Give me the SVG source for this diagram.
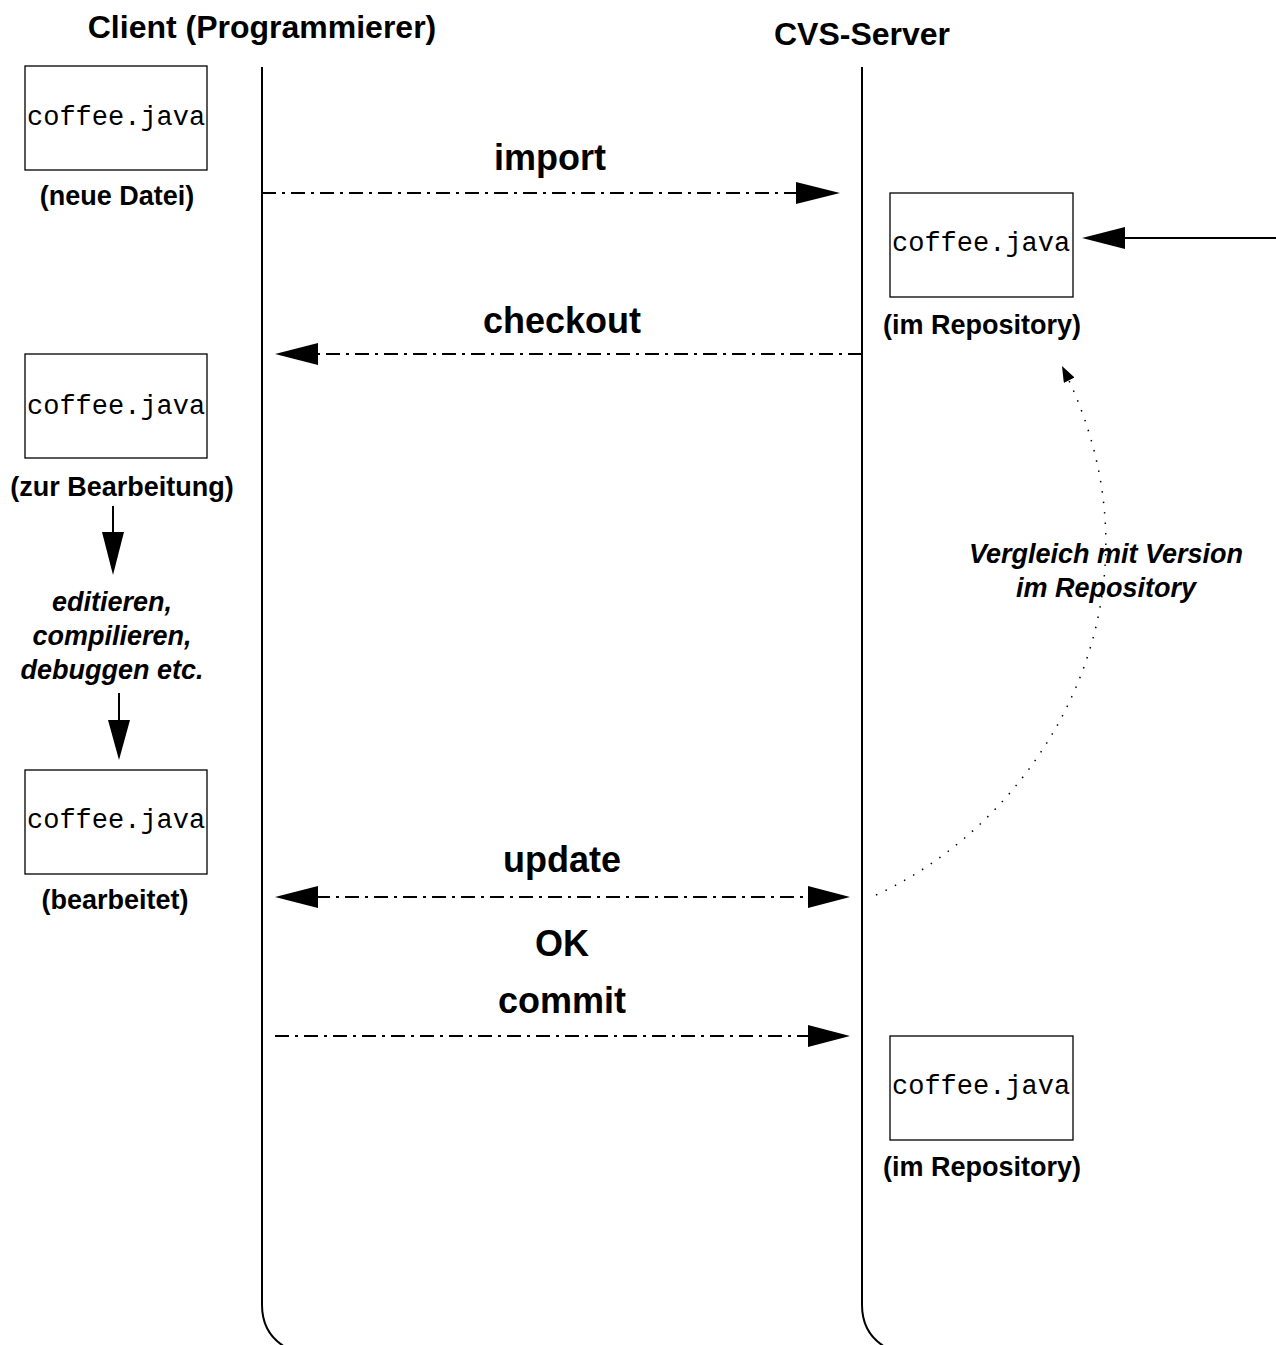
<svg xmlns="http://www.w3.org/2000/svg" width="1276" height="1345" viewBox="0 0 1276 1345">
<style>
.title{font-family:"Liberation Sans",Arial,sans-serif;font-weight:bold;font-size:32px;text-anchor:middle;fill:#000}
.lbl{font-family:"Liberation Sans",Arial,sans-serif;font-weight:bold;font-size:27px;text-anchor:middle;fill:#000}
.msg{font-family:"Liberation Sans",Arial,sans-serif;font-weight:bold;font-size:36px;text-anchor:middle;fill:#000}
.ital{font-family:"Liberation Sans",Arial,sans-serif;font-weight:bold;font-style:italic;font-size:27px;text-anchor:middle;fill:#000}
.mono{font-family:"Liberation Mono","Courier New",monospace;font-size:27px;fill:#000}
.box{fill:#fff;stroke:#000;stroke-width:1.3}
.life{fill:none;stroke:#000;stroke-width:2}
.dd{fill:none;stroke:#000;stroke-width:2;stroke-dasharray:14 6 3 6}
.solid{fill:none;stroke:#000;stroke-width:2}
.dot{fill:none;stroke:#000;stroke-width:1.5;stroke-dasharray:1.5 9}
.head{fill:#000}
</style>
<defs>
<marker id="dothead" viewBox="0 0 16 12" refX="16" refY="6" markerWidth="16" markerHeight="12" markerUnits="userSpaceOnUse" orient="auto">
<path d="M0,0 L16,6 L0,12 Z" fill="#000"/>
</marker>
</defs>

<text class="title" x="262" y="38">Client (Programmierer)</text>
<text class="title" x="862" y="45">CVS-Server</text>

<g id="lifelines">
<path class="life" d="M262,67 V1305 Q262,1333 285,1347"/>
<path class="life" d="M862,67 V1305 Q862,1333 885,1347"/>
</g>

<g id="node-new">
<rect class="box" x="25" y="66" width="182" height="104"/>
<text class="mono" x="27" y="125">coffee.java</text>
<text class="lbl" x="117" y="205">(neue Datei)</text>
</g>

<g id="node-repo1">
<rect class="box" x="890" y="193" width="183" height="104"/>
<text class="mono" x="892" y="251">coffee.java</text>
<text class="lbl" x="982" y="334">(im Repository)</text>
</g>

<g id="node-work">
<rect class="box" x="25" y="354" width="182" height="104"/>
<text class="mono" x="27" y="414">coffee.java</text>
<text class="lbl" x="122" y="496">(zur Bearbeitung)</text>
</g>

<g id="node-edited">
<rect class="box" x="25" y="770" width="182" height="104"/>
<text class="mono" x="27" y="828">coffee.java</text>
<text class="lbl" x="115" y="909">(bearbeitet)</text>
</g>

<g id="node-repo2">
<rect class="box" x="890" y="1036" width="183" height="104"/>
<text class="mono" x="892" y="1094">coffee.java</text>
<text class="lbl" x="982" y="1176">(im Repository)</text>
</g>

<g id="node-edit-note">
<text class="ital" x="112" y="611">editieren,</text>
<text class="ital" x="112" y="645">compilieren,</text>
<text class="ital" x="112" y="679">debuggen etc.</text>
</g>

<g id="node-compare-note">
<text class="ital" x="1106" y="563">Vergleich mit Version</text>
<text class="ital" x="1106" y="597">im Repository</text>
</g>

<g id="connectors">
<!-- import -->
<text class="msg" x="550" y="170">import</text>
<path class="dd" d="M262,193 H798"/>
<path class="head" d="M796,182 L840,193 L796,204 Z"/>
<!-- checkout -->
<text class="msg" x="562" y="333">checkout</text>
<path class="dd" d="M862,354 H316"/>
<path class="head" d="M318,343 L275,354 L318,365 Z"/>
<!-- update -->
<text class="msg" x="562" y="872">update</text>
<path class="dd" d="M316,897 H810"/>
<path class="head" d="M318,886 L275,897 L318,908 Z"/>
<path class="head" d="M808,886 L850,897 L808,908 Z"/>
<text class="msg" x="562" y="956">OK</text>
<!-- commit -->
<text class="msg" x="562" y="1013">commit</text>
<path class="dd" d="M275,1036 H810"/>
<path class="head" d="M808,1025 L850,1036 L808,1047 Z"/>
<!-- external arrow into repository -->
<path class="solid" d="M1276,238 H1122"/>
<path class="head" d="M1125,227 L1082,238 L1125,249 Z"/>
<!-- left vertical arrows -->
<path class="solid" d="M113,506 V535"/>
<path class="head" d="M102,532 L113,575 L124,532 Z"/>
<path class="solid" d="M119,693 V723"/>
<path class="head" d="M108,720 L119,760 L130,720 Z"/>
<!-- dotted comparison curve -->
<path class="dot" d="M876,895 C1040,820 1180,600 1062,366" marker-end="url(#dothead)"/>
</g>
</svg>
